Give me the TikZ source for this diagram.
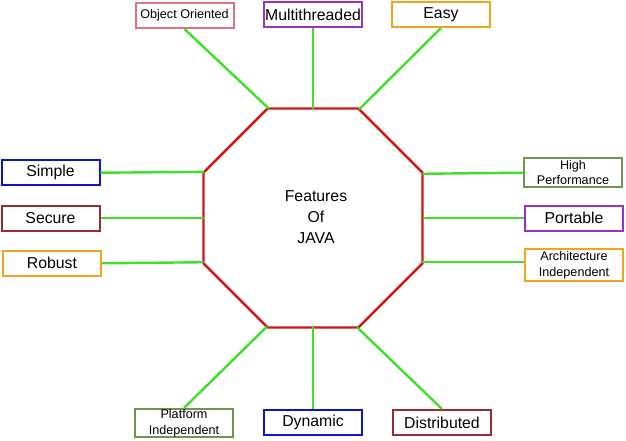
\documentclass[tikz,border=0pt]{standalone}
\usepackage{fontspec}
\setmainfont{Liberation Sans}
\usetikzlibrary{shapes.geometric}
\definecolor{pinkbox}{RGB}{226,112,130}
\definecolor{purplebox}{RGB}{150,50,200}
\definecolor{orangebox}{RGB}{242,164,30}
\definecolor{bluebox}{RGB}{10,20,200}
\definecolor{redbox}{RGB}{150,45,50}
\definecolor{greenbox}{RGB}{110,150,80}
\definecolor{linegreen}{RGB}{60,225,40}
\definecolor{octred}{RGB}{210,20,20}
\begin{document}
\begin{tikzpicture}[x=1pt,y=-1pt,
    feat/.style={draw,line width=2pt,minimum width=98pt,minimum height=25pt,inner sep=0pt,
      font=\fontsize{15.8}{18}\selectfont,align=center},
    small/.style={font=\fontsize{12.6}{15.5}\selectfont},
    link/.style={draw=linegreen,line width=2.4pt}]
    \useasboundingbox (0,0) rectangle (626,441);
    \node[draw=octred,line width=2.4pt,regular polygon,regular polygon sides=8,
      minimum size=237pt,inner sep=0pt,outer sep=0pt] (java) at (313,218) {};
    \node[align=center,font=\fontsize{15.8}{21}\selectfont] (title) at (316,217) {Features\\Of\\JAVA};
    % top
    \node[feat,small,draw=pinkbox] (oo) at (184.5,15.5) {Object Oriented};
    \node[feat,draw=purplebox] (multi) at (313,14.5) {Multithreaded};
    \node[feat,draw=orangebox] (easy) at (441,14.5) {Easy};
    % left
    \node[feat,draw=bluebox] (simple) at (50.5,172.7) {Simple};
    \node[feat,draw=redbox] (secure) at (50.5,218) {Secure};
    \node[feat,draw=orangebox] (robust) at (52,263.3) {Robust};
    % right
    \node[feat,small,draw=greenbox,minimum height=29pt] (perf) at (573,172.7) {High\\Performance};
    \node[feat,draw=purplebox] (port) at (574,218) {Portable};
    \node[feat,small,draw=orangebox,minimum height=32pt] (arch) at (574,265) {Architecture\\Independent};
    % bottom
    \node[feat,small,draw=greenbox,minimum height=28pt] (plat) at (184,423) {Platform\\Independent};
    \node[feat,draw=bluebox] (dyn) at (313,422.5) {Dynamic};
    \node[feat,draw=redbox] (dist) at (442,422.5) {Distributed};
    % links
    \draw[link] (oo.south) -- (java.112.5);
    \draw[link] (multi.south) -- (java.north);
    \draw[link] (easy.south) -- (java.67.5);
    \draw[link] (simple.east) -- (java.157.5);
    \draw[link] (secure.east) -- (java.west);
    \draw[link] (robust.east) -- (java.202.5);
    \draw[link] (perf.west) -- (java.22.5);
    \draw[link] (port.west) -- (java.east);
    \draw[link] (arch.west |- java.-22.5) -- (java.-22.5);
    \draw[link] (plat.north) -- (java.247.5);
    \draw[link] (dyn.north) -- (java.south);
    \draw[link] (dist.north) -- (java.292.5);
\end{tikzpicture}
\end{document}
